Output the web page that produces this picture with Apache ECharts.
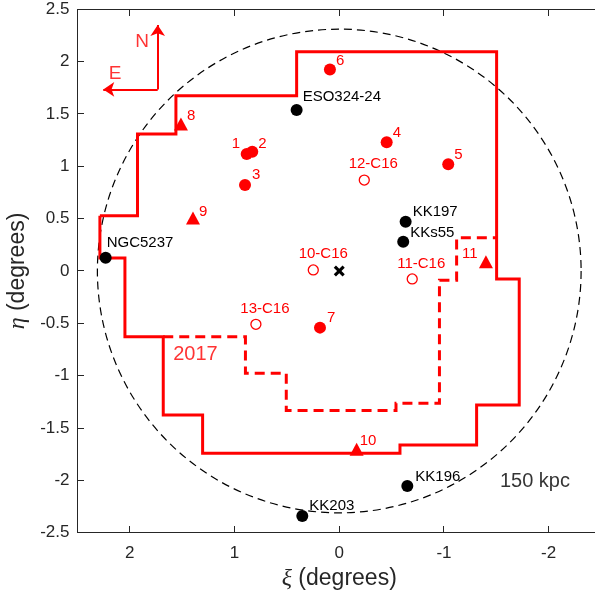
<!DOCTYPE html>
<html>
<head>
<meta charset="utf-8">
<script src="https://cdn.jsdelivr.net/npm/echarts@6/dist/echarts.min.js"></script>
<style>
  html, body { margin: 0; padding: 0; background: #fff; }
  #chart { width: 595px; height: 599px; }
</style>
</head>
<body>
<div id="chart"></div>
<script>
// Sky positions in standard coordinates (xi, eta), degrees. East is to the left.
const xTicks = [2, 1, 0, -1, -2];
const yTicks = [-2.5, -2, -1.5, -1, -0.5, 0, 0.5, 1, 1.5, 2, 2.5];

// Group members (black dots)
const groupNames = ['NGC5237', 'ESO324-24', 'KK197', 'KKs55', 'KK196', 'KK203'];
const groupXi    = [2.231, 0.407, -0.634, -0.611, -0.650, 0.353];
const groupEta   = [0.127, 1.538, 0.471, 0.280, -2.053, -2.340];

// New dwarf candidates (filled red circles)
const dwarfNames = ['1', '2', '3', '4', '5', '6', '7'];
const dwarfXi    = [0.884, 0.831, 0.900, -0.453, -1.041, 0.089, 0.184];
const dwarfEta   = [1.117, 1.140, 0.821, 1.229, 1.019, 1.926, -0.541];

// Earlier C16 candidates (open red circles)
const c16Names = ['10-C16', '11-C16', '12-C16', '13-C16'];
const c16Xi    = [0.248, -0.697, -0.239, 0.796];
const c16Eta   = [0.010, -0.076, 0.869, -0.509];

// Further candidates (red triangles)
const triNames = ['8', '9', '10', '11'];
const triXi    = [1.512, 1.397, -0.166, -1.401];
const triEta   = [1.404, 0.506, -1.703, 0.089];

// Centre of the group
const centreXi = [0];
const centreEta = [0];

// Survey footprint (solid) and the 2017 extension (dashed)
const surveyXi  = [2.286, 1.927, 1.927, 1.560, 1.560, 0.407, 0.407, -1.503, -1.503, -1.719, -1.719, -1.312, -1.312, -0.580, -0.580, 1.305, 1.305, 1.681, 1.681, 2.047, 2.047, 2.286, 2.286];
const surveyEta = [0.528, 0.528, 1.308, 1.308, 1.674, 1.674, 2.095, 2.095, -0.076, -0.076, -1.280, -1.280, -1.662, -1.662, -1.741, -1.741, -1.375, -1.375, -0.628, -0.628, 0.124, 0.124, 0.528];
const ext2017Xi  = [1.681, 0.896, 0.896, 0.506, 0.506, -0.542, -0.542, -0.957, -0.957, -1.121, -1.121, -1.503];
const ext2017Eta = [-0.628, -0.628, -0.977, -0.977, -1.332, -1.332, -1.264, -1.264, -0.089, -0.089, 0.318, 0.318];

// 150 kpc projected radius, degrees
const radius150 = 2.31;

// Compass arrows: corner, north tip, east tip
const compassCorner = [1.734, 1.735];
const compassNorth  = [1.734, 2.35];
const compassEast   = [2.254, 1.735];

// Free text annotations
const noteTexts = ['N', 'E', '2017', '150 kpc'];
const noteXi    = [1.884, 2.142, 1.373, -1.869];
const noteEta   = [2.187, 1.884, -0.802, -2.012];
const noteColors = ['red', 'red', 'red', '#000'];

// Label placement: [dx, dy, align] from the marker centre, in pixels
const labelPlace = {
  'NGC5237': [1, -15, 'left'], 'ESO324-24': [6, -13, 'left'], 'KK197': [7, -10, 'left'],
  'KKs55': [7, -9, 'left'], 'KK196': [8, -9, 'left'], 'KK203': [7, -10, 'left'],
  '1': [-15, -10, 'left'], '2': [6, -8, 'left'], '3': [7, -10, 'left'], '4': [6, -9, 'left'],
  '5': [6, -9, 'left'], '6': [6, -9, 'left'], '7': [7, -10, 'left'],
  '8': [6, -8, 'left'], '9': [6, -6, 'left'], '10': [3, -8, 'left'], '11': [-24, -8, 'left'],
  '10-C16': [10, -16, 'center'], '11-C16': [9, -15, 'center'], '12-C16': [9, -16, 'center'], '13-C16': [9, -15, 'center']
};

const FONT = 'Liberation Sans, Arial, Helvetica, sans-serif';
const AX = '#262626';

function points(names, xs, ys, color) {
  return names.map((n, i) => {
    const p = labelPlace[n];
    return {
      name: n,
      value: [xs[i], ys[i]],
      label: {
        show: true, formatter: n, position: 'inside',
        align: p[2], verticalAlign: 'middle', offset: [p[0], p[1]],
        color: color, fontSize: 15, fontFamily: FONT
      }
    };
  });
}
function pairs(xs, ys) { return xs.map((x, i) => [x, ys[i]]); }
function titleStyle() {
  return {
    fontSize: 23, fontFamily: FONT, color: AX,
    rich: { g: { fontSize: 24, fontFamily: 'Liberation Serif, serif', fontStyle: 'italic', color: AX } }
  };
}

const chart = echarts.init(document.getElementById('chart'), null, { renderer: 'canvas' });

const option = {
  animation: false,
  grid: { left: 77.5, top: 9.3, width: 523.5, height: 523.4, containLabel: false, outerBoundsMode: 'none' },
  xAxis: [{
    type: 'value', min: -2.5, max: 2.5, inverse: true, position: 'bottom',
    name: '{g|ξ} (degrees)', nameLocation: 'middle', nameGap: 33, nameTextStyle: titleStyle(),
    axisLine: { show: false, onZero: false },
    axisTick: { show: false },
    axisLabel: { customValues: xTicks, margin: 12, fontSize: 17, fontFamily: FONT, color: AX },
    splitLine: { show: false }
  }],
  yAxis: [{
    type: 'value', min: -2.5, max: 2.5, interval: 0.5, position: 'left',
    name: '{g|η} (degrees)', nameLocation: 'middle', nameGap: 40, nameRotate: 90, nameTextStyle: titleStyle(),
    axisLine: { show: false, onZero: false },
    axisTick: { show: false },
    axisLabel: { margin: 8, fontSize: 17, fontFamily: FONT, color: AX },
    splitLine: { show: false }
  }],
  series: [
    {
      name: 'survey', type: 'line', data: pairs(surveyXi, surveyEta), symbol: 'none',
      lineStyle: { color: 'red', width: 3, join: 'miter' }, z: 3, silent: true
    },
    {
      name: '2017', type: 'line', data: pairs(ext2017Xi, ext2017Eta), symbol: 'none',
      lineStyle: { color: 'red', width: 3, type: [10, 6], join: 'miter' }, z: 3, silent: true
    },
    {
      name: 'compass', type: 'line', data: [], symbol: 'none', silent: true,
      markLine: {
        silent: true, symbol: ['none', 'arrow'], symbolSize: 11, label: { show: false },
        lineStyle: { color: 'red', width: 2, type: 'solid' },
        data: [
          [{ coord: compassCorner }, { coord: compassNorth }],
          [{ coord: compassCorner }, { coord: compassEast }]
        ]
      }
    },
    {
      name: 'group', type: 'scatter', symbol: 'circle', symbolSize: 12,
      itemStyle: { color: '#000', opacity: 1 }, data: points(groupNames, groupXi, groupEta, '#000'), z: 5
    },
    {
      name: 'dwarfs', type: 'scatter', symbol: 'circle', symbolSize: 12,
      itemStyle: { color: 'red', opacity: 1 }, data: points(dwarfNames, dwarfXi, dwarfEta, 'red'), z: 5
    },
    {
      name: 'c16', type: 'scatter', symbol: 'circle', symbolSize: 10,
      itemStyle: { color: '#fff', borderColor: 'red', borderWidth: 1.3, opacity: 1 },
      data: points(c16Names, c16Xi, c16Eta, 'red'), z: 5
    },
    {
      name: 'triangles', type: 'scatter', symbol: 'triangle', symbolSize: [14, 13],
      itemStyle: { color: 'red', opacity: 1 }, data: points(triNames, triXi, triEta, 'red'), z: 5
    },
    {
      name: 'centre', type: 'scatter',
      symbol: 'path://M2,0 L5,3 L8,0 L10,2 L7,5 L10,8 L8,10 L5,7 L2,10 L0,8 L3,5 L0,2 Z',
      symbolSize: 11, itemStyle: { color: '#000', opacity: 1 }, data: pairs(centreXi, centreEta), z: 5
    },
    {
      name: 'notes', type: 'scatter', symbolSize: 0, silent: true, z: 6,
      data: noteTexts.map((t, i) => ({
        value: [noteXi[i], noteEta[i]],
        label: {
          show: true, formatter: t, position: 'inside', align: 'center', verticalAlign: 'middle',
          color: noteColors[i], fontSize: (t === 'N' || t === 'E') ? 19 : 20, fontFamily: FONT
        }
      }))
    }
  ]
};

chart.setOption(option);

// Box frame and inward ticks as 1px filled bars, plus the dashed 150 kpc circle,
// all placed through the axis scales.
const px = v => chart.convertToPixel({ gridIndex: 0 }, v);
const corner0 = px([2.5, -2.5]);
const corner1 = px([-2.5, 2.5]);
const Lx = Math.round(corner0[0] - 0.5);
const By = Math.round(corner0[1] - 0.5);
const Ty = Math.round(corner1[1] - 0.5);
const Rx = Math.round(corner1[0]);
const TICK = 6;
function bar(x, y, w, h) {
  return { type: 'rect', shape: { x: x, y: y, width: w, height: h }, z: 10, silent: true,
           style: { fill: AX, stroke: null, lineWidth: 0 } };
}

const c0 = px([0, 0]);
const c1 = px([radius150, 0]);
const elements = [{
  type: 'circle', shape: { cx: c0[0], cy: c0[1], r: Math.abs(c1[0] - c0[0]) }, z: 1, silent: true,
  style: { fill: null, stroke: '#000', lineWidth: 1.2, lineDash: [8, 5] }
}];
elements.push(bar(Lx, Ty, 1, By - Ty + 1));      // left edge
elements.push(bar(Lx, Ty, Rx - Lx, 1));          // top edge
elements.push(bar(Lx, By, Rx - Lx, 1));          // bottom edge
xTicks.forEach(v => {
  const x = Math.round(px([v, 0])[0] - 0.5);
  elements.push(bar(x, By - TICK, 1, TICK));
  elements.push(bar(x, Ty + 1, 1, TICK));
});
yTicks.forEach(v => {
  const y = Math.round(px([0, v])[1] - 0.5);
  elements.push(bar(Lx + 1, y, TICK, 1));
});
chart.setOption({ graphic: elements });
</script>
</body>
</html>
